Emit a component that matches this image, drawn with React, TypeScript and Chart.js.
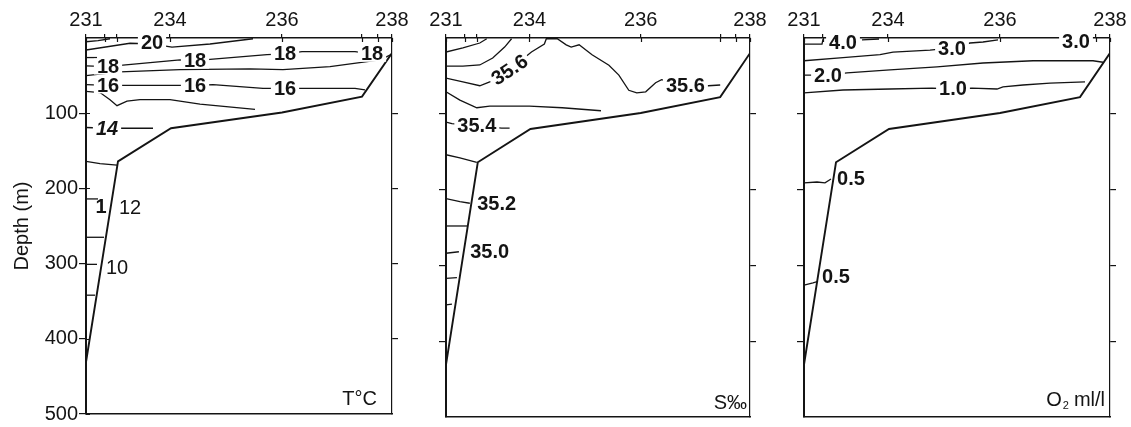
import { useEffect, useRef } from "react";
import { Chart, registerables } from "chart.js";
Chart.register(...registerables);

const FONT = '"Liberation Sans", Arial, Helvetica, sans-serif';
const INK = "#141414";

// Stations along the section: distance (km from st. 231) and their labels
const stationKm = [0, 19, 31, 84, 196, 276, 292, 306];
const stationLabels = ["231", "", "", "234", "236", "", "", "238"];
const depthTicksLeft = [100, 200, 300, 400, 500];
const depthTicksRight = [100, 200, 300, 400];

// Sea-floor profile [km, depth m]
const bottomProfile = [[306, 20], [276, 78], [196, 99], [85, 120], [32, 164], [0, 431]];

// Temperature isotherms [km, depth m]
const t21 = [[0, 5], [12, 3.5], [24, 1]];
const t20 = [[0, 16], [44, 7], [66, 8], [86, 12], [124, 8], [167, 1]];
const t19 = [[0, 26], [11, 26]];
const t18 = [[0, 37], [22, 38], [37, 36], [94, 29], [109, 30], [127, 28], [181, 22], [199, 21], [216, 18], [269, 18], [286, 21], [300, 20]];
const t17 = [[0, 50], [34, 45], [94, 42], [164, 41], [197, 42], [244, 38], [294, 29], [305, 22]];
const t16 = [[0, 62], [22, 63], [37, 63], [94, 63], [109, 63], [127, 62], [177, 67], [199, 67], [216, 67], [269, 67], [279, 69]];
const t15 = [[0, 71], [14, 72.5], [24, 82], [31, 90], [41, 84], [54, 82], [84, 82], [114, 88], [169, 95]];
const t14 = [[0, 119], [21, 120], [37, 120], [67, 120]];
const t13 = [[0, 164], [14, 167], [31, 169]];
const t12 = [[0, 214], [12, 214]];
const t11 = [[0, 265], [18, 265]];
const t10 = [[0, 301], [11, 301]];
const t9 = [[0, 342], [9, 342]];
const tLabelText = ["20", "18", "18", "18", "18", "16", "16", "16", "14", "1", "12", "10"];
const tLabelPos = [[66, 5.3], [22, 38], [109, 30], [199, 21], [286, 21], [22, 63], [109, 63], [199, 67], [21, 120], [15, 224], [44, 225], [31, 305]];

// Salinity isohalines
const s1 = [[0, 18.5], [17, 13], [34, 6.6], [41, 1]];
const s2 = [[0, 37], [17, 37], [34, 35.6], [47, 26.4], [59, 12], [66, 1]];
const s3 = [[0, 53], [17, 58], [34, 63], [44, 58], [64, 42], [86, 18.5], [99, 8], [101, 1], [112, 1], [121, 9], [126, 12], [134, 9], [147, 22], [164, 36], [174, 49], [184, 69], [192, 72.5], [201, 71], [211, 59], [217, 55], [241, 63], [264, 63], [276, 62]];
const s4 = [[0, 71], [14, 82], [31, 92], [44, 90], [84, 90], [117, 92], [156, 96]];
const s5 = [[0, 111], [6, 113], [31, 116], [56, 119], [64, 119]];
const s6 = [[0, 154], [14, 158], [31, 164]];
const s7 = [[0, 212], [14, 216], [24, 218]];
const s8 = [[0, 248], [22, 248]];
const s9 = [[0, 284], [13, 282]];
const s10 = [[0, 317], [11, 316]];
const s11 = [[0, 352], [6, 351]];
const sLabelText = ["35.6", "35.6", "35.4", "35.2", "35.0"];
const sLabelPos = [[64, 42], [241, 63], [31, 116], [51, 218], [44, 282]];

// Oxygen isolines
const o4 = [[0, 8], [18, 8], [19, 1.5]];
const o4b = [[58, 2.6], [75, 1.3]];
const o3 = [[0, 30], [39, 26], [76, 22], [89, 18.5], [126, 16], [148, 13], [166, 6.6], [179, 5.3], [194, 2.6]];
const o2 = [[0, 49], [24, 49], [43, 46], [86, 42], [133, 38], [179, 33], [229, 30], [289, 30], [299, 32]];
const o1 = [[0, 72.5], [39, 68.6], [86, 67.3], [128, 66], [149, 67.3], [168, 66], [193, 67.3], [199, 64.6], [219, 62], [246, 59.4], [281, 58]];
const o05a = [[0, 191], [13, 190], [21, 191], [27, 186]];
const o05b = [[0, 326], [9, 323], [14, 321]];
const oLabelText = ["4.0", "3.0", "3.0", "2.0", "1.0", "0.5", "0.5"];
const oLabelPos = [[39, 5.3], [148, 13.5], [272, 4], [24, 49], [149, 67], [47, 185], [32, 314]];

type Panel = {
  left: number; width: number; leftW: number; rightW: number;
  contours: number[][][]; labelText: string[]; labelPos: number[][];
  labelStyle: string[]; labelRot: number[]; labelBox: boolean[];
  unit: string; unitInset: number; unitBase: number; depthLabels: boolean;
};

const panels: Panel[] = [
  {
    left: 0, width: 420, leftW: 86, rightW: 28,
    contours: [t21, t20, t19, t18, t17, t16, t15, t14, t13, t12, t11, t10, t9],
    labelText: tLabelText, labelPos: tLabelPos,
    labelStyle: ["bold", "bold", "bold", "bold", "bold", "bold", "bold", "bold", "italic bold", "bold", "normal", "normal"],
    labelRot: [0, 0, 0, 0, 0, 0, 0, 0, 0, 0, 0, 0],
    labelBox: [true, true, true, true, true, true, true, true, true, false, false, false],
    unit: "T°C", unitInset: 15, unitBase: 405, depthLabels: true,
  },
  {
    left: 420, width: 357, leftW: 26, rightW: 27,
    contours: [s1, s2, s3, s4, s5, s6, s7, s8, s9, s10, s11],
    labelText: sLabelText, labelPos: sLabelPos,
    labelStyle: ["bold", "bold", "bold", "bold", "bold"],
    labelRot: [-34, 0, 0, 0, 0],
    labelBox: [true, true, true, false, false],
    unit: "S‰", unitInset: 3, unitBase: 409, depthLabels: false,
  },
  {
    left: 777, width: 354, leftW: 27, rightW: 21,
    contours: [o4, o4b, o3, o2, o1, o05a, o05b],
    labelText: oLabelText, labelPos: oLabelPos,
    labelStyle: ["bold", "bold", "bold", "bold", "bold", "bold", "bold"],
    labelRot: [0, 0, 0, 0, 0, 0, 0],
    labelBox: [true, true, true, true, true, false, false],
    unit: "O2", unitInset: 5, unitBase: 406, depthLabels: false,
  },
];

function makePlugin(p: Panel) {
  return {
    id: "section",
    afterDatasetsDraw(chart: any) {
      const { ctx, chartArea, scales } = chart;
      const xs = scales.x, ys = scales.y;
      // contour labels
      p.labelText.forEach((text, i) => {
        const [km, d] = p.labelPos[i];
        const px = xs.getPixelForValue(km), py = ys.getPixelForValue(d);
        ctx.save();
        ctx.translate(px, py);
        if (p.labelRot[i]) ctx.rotate((p.labelRot[i] * Math.PI) / 180);
        ctx.font = `${p.labelStyle[i]} 20px ${FONT}`;
        const w = ctx.measureText(text).width;
        if (p.labelBox[i]) {
          ctx.fillStyle = "#fff";
          ctx.fillRect(-w / 2 - 3, -8, w + 6, 16);
        }
        ctx.fillStyle = INK;
        ctx.textAlign = "center";
        ctx.textBaseline = "middle";
        ctx.fillText(text, 0, 1);
        ctx.restore();
      });
      // inner halves of tick marks
      ctx.save();
      ctx.strokeStyle = INK;
      ctx.lineWidth = 1.2;
      ctx.beginPath();
      stationKm.forEach((v) => {
        const x = Math.round(xs.getPixelForValue(v)) + 0.5;
        ctx.moveTo(x, chartArea.top);
        ctx.lineTo(x, chartArea.top + 4);
      });
      if (p.depthLabels) {
        depthTicksLeft.forEach((v) => {
          const y = Math.round(ys.getPixelForValue(v)) + 0.5;
          ctx.moveTo(chartArea.left, y);
          ctx.lineTo(chartArea.left + 4, y);
        });
      }
      ctx.stroke();
      // unit text
      ctx.fillStyle = INK;
      ctx.textBaseline = "alphabetic";
      const rx = chartArea.right - p.unitInset;
      if (p.unit === "O2") {
        ctx.font = `20px ${FONT}`;
        const tail = "ml/l";
        const wt = ctx.measureText(tail).width;
        ctx.textAlign = "right";
        ctx.fillText(tail, rx, p.unitBase);
        ctx.font = `11px ${FONT}`;
        ctx.fillText("2", rx - wt - 5, p.unitBase + 3);
        ctx.font = `20px ${FONT}`;
        ctx.fillText("O", rx - wt - 12, p.unitBase);
      } else {
        ctx.font = `20px ${FONT}`;
        ctx.textAlign = "right";
        ctx.fillText(p.unit, rx, p.unitBase);
      }
      ctx.restore();
    },
  };
}

function PanelChart({ p }: { p: Panel }) {
  const ref = useRef<HTMLCanvasElement | null>(null);
  useEffect(() => {
    if (!ref.current) return;
    const toPts = (arr: number[][]) => arr.map(([x, y]) => ({ x, y }));
    const datasets: any[] = p.contours.map((c) => ({
      data: toPts(c), showLine: true, borderColor: INK, borderWidth: 1.3,
      pointRadius: 0, tension: 0, fill: false,
    }));
    datasets.push({
      data: toPts(bottomProfile), showLine: true, borderColor: INK, borderWidth: 1.9,
      pointRadius: 0, tension: 0, fill: false,
    });
    const chart = new Chart(ref.current, {
      type: "scatter",
      data: { datasets },
      plugins: [makePlugin(p)],
      options: {
        animation: false,
        responsive: false,
        devicePixelRatio: 1,
        layout: { padding: 0 },
        plugins: { legend: { display: false }, tooltip: { enabled: false } },
        scales: {
          x: {
            type: "linear", position: "top", min: 0, max: 306,
            afterBuildTicks: (s: any) => { s.ticks = stationKm.map((v) => ({ value: v })); },
            afterFit: (s: any) => { s.height = 38; },
            ticks: {
              autoSkip: false, maxRotation: 0, padding: 2, color: INK,
              font: { size: 20, family: FONT },
              callback: (_v: any, i: number) => stationLabels[i],
            },
            grid: { drawOnChartArea: false, drawTicks: true, tickLength: 4, color: INK, lineWidth: 1.2 },
            border: { display: true, color: INK, width: 1.6 },
          },
          xb: {
            type: "linear", position: "bottom", min: 0, max: 306,
            afterFit: (s: any) => { s.height = 10; },
            ticks: { display: false },
            grid: { display: false, drawTicks: false },
            border: { display: true, color: INK, width: 1.6 },
          },
          y: {
            type: "linear", position: "left", reverse: true, min: 0, max: 500,
            afterBuildTicks: (s: any) => {
              s.ticks = (p.depthLabels ? depthTicksLeft : depthTicksRight).map((v) => ({ value: v }));
            },
            afterFit: (s: any) => { s.width = p.leftW; },
            ticks: { display: p.depthLabels, padding: 1, color: INK, font: { size: 20, family: FONT } },
            grid: { drawOnChartArea: false, drawTicks: true, tickLength: 7, color: INK, lineWidth: 1.2 },
            border: { display: true, color: INK, width: 2 },
            title: {
              display: p.depthLabels, text: "Depth (m)", color: INK,
              font: { size: 20, family: FONT }, padding: { top: 10, bottom: 0 },
            },
          },
          y2: {
            type: "linear", position: "right", reverse: true, min: 0, max: 500,
            afterBuildTicks: (s: any) => { s.ticks = depthTicksRight.map((v) => ({ value: v })); },
            afterFit: (s: any) => { s.width = p.rightW; },
            ticks: { display: false },
            grid: { drawOnChartArea: false, drawTicks: true, tickLength: 6, color: INK, lineWidth: 1.2 },
            border: { display: true, color: INK, width: 1.2 },
          },
        },
      } as any,
    });
    return () => chart.destroy();
  }, [p]);
  return (
    <canvas
      ref={ref}
      width={p.width}
      height={427}
      style={{ position: "absolute", left: p.left, top: 0, width: p.width, height: 427 }}
    />
  );
}

export default function App() {
  return (
    <div style={{ position: "absolute", left: 0, top: 0, width: 1131, height: 427, background: "#fff" }}>
      {panels.map((p, i) => (
        <PanelChart key={i} p={p} />
      ))}
    </div>
  );
}
